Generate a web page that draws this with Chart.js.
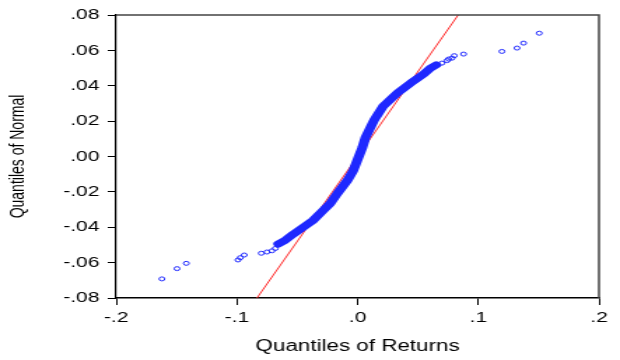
<!DOCTYPE html>
<html>
<head>
<meta charset="utf-8">
<script src="https://cdn.jsdelivr.net/npm/chart.js@4/dist/chart.umd.min.js"></script>
<style>
  body { margin: 0; background: #fff; overflow: hidden; }
  /* the original graph is stretched sideways, so draw narrow and stretch */
  #wrap { width: 443px; height: 360px; transform: scaleX(1.3995); transform-origin: 0 0; }
</style>
</head>
<body>
<div id="wrap"><canvas id="qq"></canvas></div>
<script>
// tails (single open circles)
const lowTailX = [-0.1621, -0.1496, -0.1419, -0.0991, -0.0972, -0.0939, -0.0798, -0.0751, -0.0709, -0.0682];
const lowTailY = [-0.0692, -0.0634, -0.0604, -0.0585, -0.0572, -0.0557, -0.0547, -0.0540, -0.0533, -0.0520];
const highTailX = [0.0699, 0.0741, 0.0754, 0.0782, 0.0801, 0.0878, 0.1196, 0.1321, 0.1375, 0.1505];
const highTailY = [0.0528, 0.0542, 0.0551, 0.0556, 0.0570, 0.0579, 0.0594, 0.0613, 0.0641, 0.0697];

// dense body of the S curve
const bodyX = [-0.0657, -0.0599, -0.0533, -0.0450, -0.0367, -0.0284, -0.0226, -0.0168, -0.0085, -0.0036,
  0.0006, 0.0039, 0.0064, 0.0105, 0.0138, 0.0213, 0.0329, 0.0437, 0.0545, 0.0603, 0.0652];
const bodyY = [-0.0495, -0.0473, -0.0439, -0.0400, -0.0360, -0.0304, -0.0265, -0.0209, -0.0136, -0.0080,
  -0.0007, 0.0049, 0.0105, 0.0162, 0.0207, 0.0285, 0.0358, 0.0414, 0.0465, 0.0499, 0.0518];

// red reference line
const refX = [-0.2, 0.2];
const refY = [-0.192, 0.192];

const xTicks = [-0.2, -0.1, 0, 0.1, 0.2];
const yTicks = [-0.08, -0.06, -0.04, -0.02, 0, 0.02, 0.04, 0.06, 0.08];

const blue = "rgb(30, 40, 255)";

const toPoints = function (xs, ys) {
  return xs.map((x, i) => ({ x: x, y: ys[i] }));
};

const fmtX = function (v) {
  if (Math.abs(v) < 1e-9) return ".0";
  return v.toFixed(1).replace("0.", ".");
};

const fmtY = function (v) {
  if (Math.abs(v) < 1e-9) return ".00";
  return v.toFixed(2).replace("0.", ".");
};

const frame = {
  id: "frame",
  afterDraw(chart) {
    const a = chart.chartArea;
    const ctx = chart.ctx;
    ctx.save();
    ctx.strokeStyle = "#444";
    ctx.lineWidth = 1.5;
    ctx.beginPath();
    ctx.moveTo(a.left, a.top);
    ctx.lineTo(a.right, a.top);
    ctx.lineTo(a.right, a.bottom);
    ctx.stroke();
    ctx.restore();
  },
};

const tickFont = { family: "Liberation Sans, Arial", size: 15 };

new Chart(document.getElementById("qq"), {
  type: "scatter",
  data: {
    datasets: [
      {
        data: toPoints(refX, refY),
        showLine: true,
        borderColor: "rgb(255, 40, 40)",
        borderWidth: 1,
        pointRadius: 0,
        order: 3,
      },
      {
        data: toPoints(bodyX, bodyY),
        showLine: true,
        borderColor: blue,
        borderWidth: 7,
        borderCapStyle: "round",
        borderJoinStyle: "round",
        pointRadius: 0,
        order: 2,
      },
      {
        data: toPoints(lowTailX, lowTailY).concat(toPoints(highTailX, highTailY)),
        borderColor: blue,
        backgroundColor: "rgba(255,255,255,0)",
        borderWidth: 1,
        pointRadius: 2,
        order: 1,
      },
    ],
  },
  options: {
    responsive: true,
    maintainAspectRatio: false,
    animation: false,
    layout: { padding: { top: 13, right: 15, left: 0, bottom: 0 } },
    plugins: { legend: { display: false }, tooltip: { enabled: false } },
    scales: {
      x: {
        type: "linear",
        min: -0.2,
        max: 0.2,
        afterBuildTicks: (s) => { s.ticks = xTicks.map((v) => ({ value: v })); },
        afterFit: (s) => { s.height = 62; },
        ticks: {
          color: "#000",
          font: tickFont,
          padding: 4,
          maxRotation: 0,
          callback: (v) => fmtX(v),
        },
        grid: { drawOnChartArea: false, drawTicks: true, tickLength: 7, tickColor: "#000", tickWidth: 1 },
        border: { display: true, color: "#000", width: 1.5 },
        title: {
          display: true,
          text: "Quantiles of Returns",
          color: "#000",
          font: { family: "Liberation Sans, Arial", size: 16 },
          padding: { top: 0, bottom: 4 },
        },
      },
      y: {
        type: "linear",
        min: -0.08,
        max: 0.08,
        afterBuildTicks: (s) => { s.ticks = yTicks.map((v) => ({ value: v })); },
        afterFit: (s) => { s.width = 83; },
        ticks: {
          color: "#000",
          font: tickFont,
          padding: 6,
          callback: (v) => fmtY(v),
        },
        grid: { drawOnChartArea: false, drawTicks: true, tickLength: 6, tickColor: "#000", tickWidth: 1 },
        border: { display: true, color: "#000", width: 1.2 },
        title: {
          display: true,
          text: "Quantiles of Normal",
          color: "#000",
          font: { family: "Liberation Sans, Arial", size: 14 },
          padding: { top: 5, bottom: 0 },
        },
      },
    },
  },
  plugins: [frame],
});
</script>
</body>
</html>
